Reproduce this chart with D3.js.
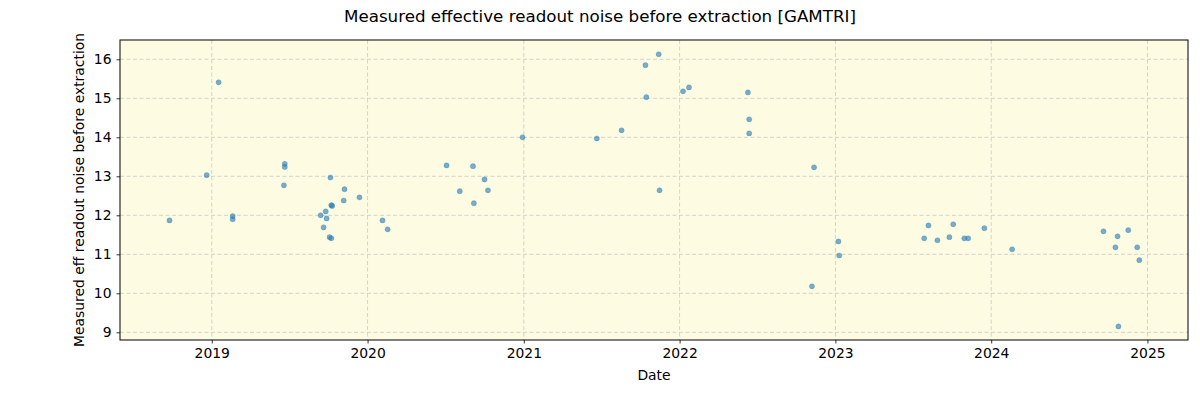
<!DOCTYPE html>
<html>
<head>
<meta charset="utf-8">
<script src="https://cdn.jsdelivr.net/npm/d3@7"></script>
<style>
  body { margin: 0; background: #fff; }
  svg text { font-family: "DejaVu Sans", sans-serif; fill: #000; }
</style>
</head>
<body>
<div id="chart"></div>
<script>
const dates = [
  "2018-09-24", "2018-12-20", "2019-01-17", "2019-02-19", "2019-02-19",
  "2019-06-21", "2019-06-21", "2019-06-19", "2019-10-06", "2019-11-08",
  "2019-11-06", "2019-12-13", "2019-10-08", "2019-10-10", "2019-09-25",
  "2019-09-13", "2019-09-27", "2019-09-20", "2019-10-04", "2019-10-08",
  "2020-02-05", "2020-02-17", "2020-07-04", "2020-09-04", "2020-10-01",
  "2020-08-04", "2020-10-09", "2020-09-06", "2020-12-29", "2021-06-21",
  "2021-08-18", "2021-10-13", "2021-11-13", "2021-10-15", "2021-11-15",
  "2022-01-09", "2022-01-23", "2022-06-10", "2022-06-13", "2022-06-13",
  "2022-11-12", "2022-11-07", "2023-01-08", "2023-01-10", "2023-07-28",
  "2023-08-07", "2023-08-28", "2023-09-25", "2023-10-04", "2023-10-30",
  "2023-11-08", "2023-12-16", "2024-02-19", "2024-09-20", "2024-10-23",
  "2024-10-18", "2024-11-17", "2024-12-08", "2024-12-13", "2024-10-25"
];
const noise = [
  11.87, 13.03, 15.41, 11.98, 11.90,
  13.32, 13.24, 12.77, 12.97, 12.67,
  12.38, 12.46, 12.26, 12.24, 12.10,
  12.00, 11.92, 11.69, 11.44, 11.41,
  11.87, 11.64, 13.28, 13.26, 12.92,
  12.62, 12.64, 12.31, 14.00, 13.97,
  14.18, 15.85, 16.13, 15.03, 12.64,
  15.18, 15.28, 15.15, 14.46, 14.10,
  13.23, 10.18, 11.33, 10.97, 11.41,
  11.74, 11.36, 11.44, 11.77, 11.41,
  11.41, 11.67, 11.13, 11.59, 11.46,
  11.18, 11.62, 11.18, 10.85, 9.15
];
const yTicks = [9, 10, 11, 12, 13, 14, 15, 16];
const xTickYears = [2019, 2020, 2021, 2022, 2023, 2024, 2025];

const width = 1200, height = 400;
const margin = { top: 40, right: 12, bottom: 60, left: 120 };
const parse = d3.timeParse("%Y-%m-%d");
const points = dates.map((d, i) => ({ date: parse(d), value: noise[i] }));

const svg = d3.select("#chart").append("svg")
  .attr("width", width)
  .attr("height", height);

const x = d3.scaleTime()
  .domain([new Date(2018, 4, 31), new Date(2025, 3, 6)])
  .range([margin.left, width - margin.right]);

const y = d3.scaleLinear()
  .domain([8.803, 16.495])
  .range([height - margin.bottom, margin.top]);

// plot background
svg.append("rect")
  .attr("x", margin.left)
  .attr("y", margin.top)
  .attr("width", width - margin.left - margin.right)
  .attr("height", height - margin.top - margin.bottom)
  .attr("fill", "#fdfce3");

const xTicks = xTickYears.map((yr) => new Date(yr, 0, 1));

// grid
const grid = svg.append("g").attr("stroke", "#c8c8c8").attr("stroke-dasharray", "4,2.5").attr("stroke-width", 0.8);
grid.selectAll(".gx").data(xTicks).enter().append("line")
  .attr("x1", (d) => x(d)).attr("x2", (d) => x(d))
  .attr("y1", margin.top).attr("y2", height - margin.bottom);
grid.selectAll(".gy").data(yTicks).enter().append("line")
  .attr("x1", margin.left).attr("x2", width - margin.right)
  .attr("y1", (d) => y(d)).attr("y2", (d) => y(d));

// points
svg.append("g").selectAll("circle")
  .data(points).enter().append("circle")
  .attr("cx", (d) => x(d.date))
  .attr("cy", (d) => y(d.value))
  .attr("r", 2.6)
  .attr("fill", "#1f77b4")
  .attr("fill-opacity", 0.6)
  .attr("stroke", "#1f77b4")
  .attr("stroke-opacity", 0.3)
  .attr("stroke-width", 0.8);

// axes
const xAxis = svg.append("g")
  .attr("transform", `translate(0,${height - margin.bottom})`)
  .call(d3.axisBottom(x).tickValues(xTicks).tickFormat(d3.timeFormat("%Y")).tickSize(3.5).tickPadding(5));
const yAxis = svg.append("g")
  .attr("transform", `translate(${margin.left},0)`)
  .call(d3.axisLeft(y).tickValues(yTicks).tickSize(3.5).tickPadding(5));

[xAxis, yAxis].forEach((a) => {
  a.select(".domain").remove();
  a.selectAll("text").attr("font-size", 13.9).attr("font-family", "DejaVu Sans, sans-serif");
  a.selectAll("line").attr("stroke", "#000").attr("stroke-width", 0.8);
});

// frame
svg.append("rect")
  .attr("x", margin.left)
  .attr("y", margin.top)
  .attr("width", width - margin.left - margin.right)
  .attr("height", height - margin.top - margin.bottom)
  .attr("fill", "none")
  .attr("stroke", "#000")
  .attr("stroke-width", 1);

// labels
svg.append("text")
  .attr("x", 600).attr("y", 22)
  .attr("text-anchor", "middle")
  .attr("font-size", 16.7)
  .text("Measured effective readout noise before extraction [GAMTRI]");

svg.append("text")
  .attr("x", (margin.left + width - margin.right) / 2)
  .attr("y", 380)
  .attr("text-anchor", "middle")
  .attr("font-size", 13.9)
  .text("Date");

svg.append("text")
  .attr("transform", `translate(84,${(margin.top + height - margin.bottom) / 2}) rotate(-90)`)
  .attr("text-anchor", "middle")
  .attr("font-size", 13.9)
  .text("Measured eff readout noise before extraction");
</script>
</body>
</html>
